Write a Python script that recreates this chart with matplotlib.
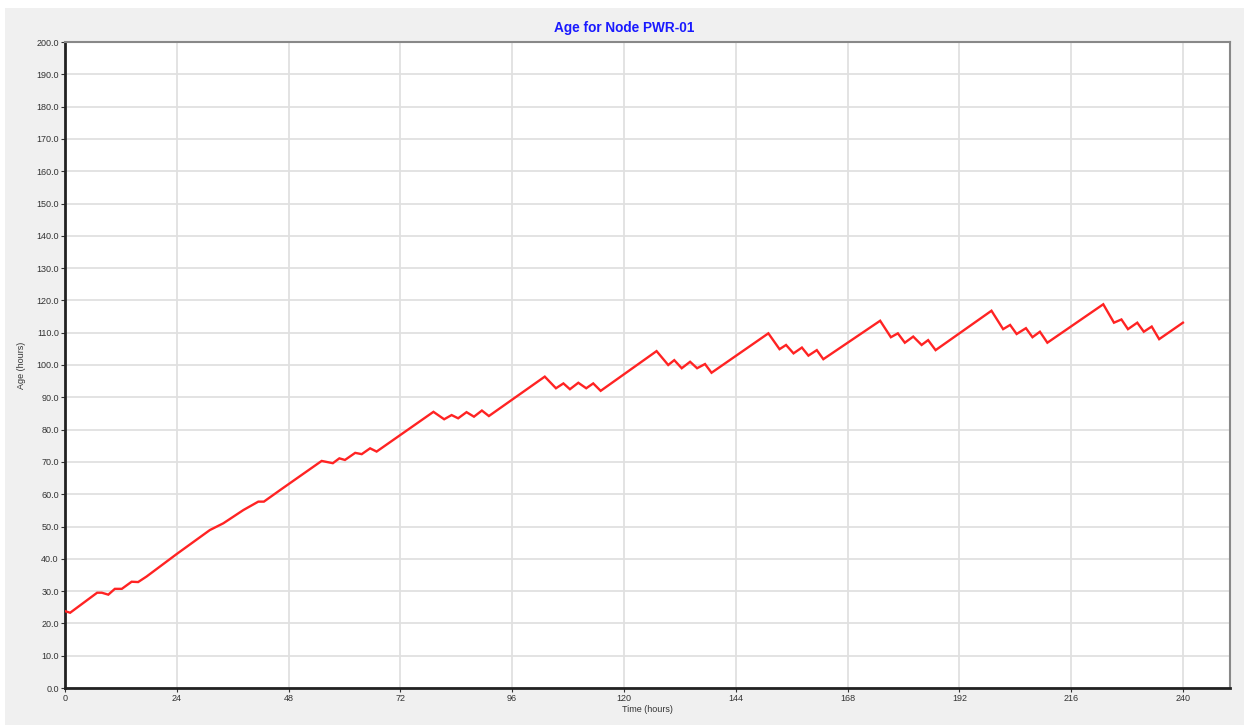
import matplotlib
matplotlib.use("Agg")
import matplotlib.pyplot as plt
from matplotlib.patches import Rectangle

plt.rcParams['font.family'] = ['Liberation Sans', 'DejaVu Sans']

# Age of water at node PWR-01 (vertices of the simulated curve)
time_h = [0.0, 1.1, 6.9, 7.9, 9.3, 10.7, 12.2, 14.3, 15.7, 17.5, 24.0, 31.1, 34.0,
          38.3, 41.5, 42.7, 46.2, 55.1, 57.5, 58.9, 60.1, 62.3, 63.7, 65.5, 66.9,
          79.1, 81.4, 83.0, 84.4, 86.2, 87.8, 89.5, 91.0,
          103.0, 105.4, 107.0, 108.4, 110.2, 111.9, 113.4, 115.0,
          127.0, 129.5, 130.8, 132.4, 134.2, 135.7, 137.4, 138.8,
          151.0, 153.4, 154.8, 156.4, 158.2, 159.6, 161.4, 162.8,
          175.0, 177.3, 178.8, 180.3, 182.1, 183.9, 185.3, 186.9,
          198.9, 201.4, 202.9, 204.3, 206.3, 207.7, 209.3, 210.9,
          222.9, 225.2, 226.8, 228.2, 230.2, 231.6, 233.3, 234.9, 240.0]
age_h = [23.8, 23.3, 29.5, 29.5, 28.9, 30.7, 30.7, 32.9, 32.8, 34.5, 41.5, 48.9, 51.0,
         55.1, 57.7, 57.7, 61.3, 70.3, 69.6, 71.1, 70.6, 72.8, 72.4, 74.2, 73.2,
         85.5, 83.2, 84.5, 83.5, 85.4, 84.0, 85.9, 84.2,
         96.4, 92.8, 94.3, 92.5, 94.5, 92.8, 94.3, 92.0,
         104.3, 100.0, 101.5, 99.0, 101.0, 99.0, 100.3, 97.6,
         109.8, 104.9, 106.2, 103.6, 105.4, 102.9, 104.6, 101.8,
         113.7, 108.6, 109.8, 106.9, 108.8, 106.2, 107.7, 104.6,
         116.8, 111.1, 112.4, 109.6, 111.4, 108.6, 110.3, 106.9,
         118.8, 113.1, 114.1, 111.1, 113.1, 110.3, 111.9, 108.0, 113.1]

x_ticks = list(range(0, 241, 24))
y_ticks = [v * 10 for v in range(21)]

fig = plt.figure(figsize=(12.44, 7.25), dpi=100, facecolor='white')
fig.patches.append(Rectangle((5 / 1244, 0), 1, 717 / 725, transform=fig.transFigure,
                             facecolor='#f0f0f0', edgecolor='none', zorder=-10))

ax = fig.add_axes([65 / 1244, 37 / 725, 1164.5 / 1244, 646 / 725])
ax.set_facecolor('white')
ax.plot(time_h, age_h, color='#ff2323', linewidth=1.7, solid_joinstyle='miter', zorder=3)

ax.set_xlim(0, 250)
ax.set_ylim(0, 200)
ax.set_xticks(x_ticks)
ax.set_yticks(y_ticks)
ax.set_yticklabels([f"{v:.1f}" for v in y_ticks])
ax.tick_params(axis='both', labelsize=6.5, colors='#333333', length=3, width=0.8, pad=1.5)
ax.grid(True, color='#e0e0e0', linewidth=1.3)
ax.set_axisbelow(True)

for side in ('left', 'bottom'):
    ax.spines[side].set_color('#222222')
    ax.spines[side].set_linewidth(2.0)
for side in ('top', 'right'):
    ax.spines[side].set_color('#888888')
    ax.spines[side].set_linewidth(1.5)

# title sits a little left of the plot centre
fig.text(624 / 1244, 1 - 28 / 725, "Age for Node PWR-01", color='#1a1aff', fontsize=9.8,
         fontweight='bold', ha='center', va='center')
ax.set_xlabel("Time (hours)", fontsize=6.5, color='#333333', labelpad=1)
ax.set_ylabel("Age (hours)", fontsize=6.5, color='#333333', labelpad=7)

fig.savefig("out.png", dpi=100)
